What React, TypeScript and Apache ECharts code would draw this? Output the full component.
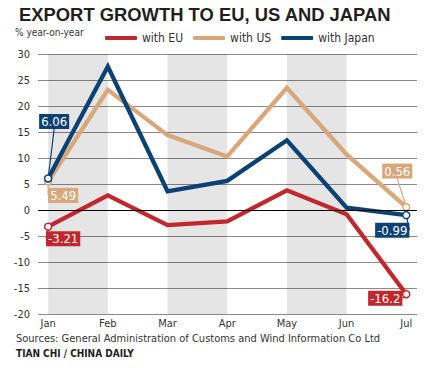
import React, { useEffect, useRef } from "react";
import * as echarts from "echarts";

const months = ["Jan", "Feb", "Mar", "Apr", "May", "Jun", "Jul"];
const euValues = [-3.21, 2.8, -2.9, -2.2, 3.8, -0.8, -16.2];
const usValues = [5.49, 23.1, 14.4, 10.3, 23.5, 10.7, 0.56];
const japanValues = [6.06, 27.6, 3.6, 5.6, 13.4, 0.45, -0.99];
const yTicks = { min: -20, max: 30, step: 5 };
const shadedPairs = [[0, 1], [2, 3], [4, 5]];

const RED = "#c1272d";
const TAN = "#d8a77a";
const NAVY = "#0b4273";
const FONT = "'Liberation Sans Narrow', 'DejaVu Sans Condensed', 'Roboto', sans-serif";

// label offsets (style, not data): [seriesIndex][dataIndex] -> [dx, dy]
const labelOffsets: Record<string, [number, number]> = {
  "0-0": [15, 12],
  "0-6": [-21, 4],
  "1-0": [15, 14],
  "1-6": [-9, -36],
  "2-0": [6, -57],
  "2-6": [-14, 15],
};

function buildData(values: number[], color: string) {
  return values.map((v, i) => {
    const isEnd = i === 0 || i === values.length - 1;
    return {
      value: [i, v],
      symbol: "circle",
      symbolSize: isEnd ? 7 : 0,
      itemStyle: { color: "#fff", borderColor: color, borderWidth: 1.5 },
      label: {
        show: isEnd,
        position: "inside",
        formatter: String(v),
        color: "#fff",
        backgroundColor: color,
        padding: [2, 2, 0, 2],
        fontSize: 13,
        fontFamily: FONT,
        lineHeight: 13,
      },
    };
  });
}

export default function App() {
  const ref = useRef<HTMLDivElement>(null);
  useEffect(() => {
    if (!ref.current) return;
    const chart = echarts.init(ref.current, null, { renderer: "svg" });
    const mk = (name: string, values: number[], color: string, extra: any = {}) => ({
      name,
      type: "line",
      data: buildData(values, color),
      lineStyle: { color, width: 4.3, join: "miter" },
      itemStyle: { color },
      labelLine: { show: true, lineStyle: { color, width: 1.2 } },
      labelLayout: (p: any) => {
        const o = labelOffsets[`${p.seriesIndex}-${p.dataIndex}`];
        return o ? { dx: o[0], dy: o[1] } : {};
      },
      emphasis: { disabled: true },
      ...extra,
    });
    chart.setOption({
      animation: false,
      backgroundColor: "#fff",
      title: {
        text: "EXPORT GROWTH TO EU, US AND JAPAN",
        left: 14,
        top: 0,
        textStyle: { fontSize: 18.4, fontWeight: "bold", color: "#231f20", fontFamily: "'Liberation Sans', Arial, sans-serif" },
      },
      legend: {
        left: 100,
        top: 27,
        icon: "roundRect",
        itemWidth: 32,
        itemHeight: 4,
        itemGap: 10,
        textStyle: { fontSize: 12, color: "#333", fontFamily: FONT },
        data: ["with EU", "with US", "with Japan"],
      },
      graphic: [
        { type: "text", left: 15, top: 27, style: { text: "% year-on-year", fontSize: 10, fill: "#333", fontFamily: FONT } },
        {
          type: "text",
          left: 16,
          top: 333,
          style: { text: "Sources: General Administration of Customs and Wind Information Co Ltd", fontSize: 11, fill: "#333", fontFamily: FONT },
        },
        {
          type: "text",
          left: 16,
          top: 348,
          style: { text: "TIAN CHI / CHINA DAILY", fontSize: 10, fontWeight: "bold", fill: "#231f20", fontFamily: FONT },
        },
      ],
      grid: { left: 38, right: 9, top: 54, bottom: 54 },
      xAxis: {
        type: "value",
        min: -0.17,
        max: 6.18,
        splitLine: { show: false },
        axisLine: { show: false },
        axisTick: { show: false },
        axisLabel: {
          customValues: months.map((_, i) => i),
          formatter: (v: number) => months[Math.round(v)] ?? "",
          fontSize: 11,
          color: "#333",
          fontFamily: FONT,
          margin: 4,
        },
      },
      yAxis: {
        type: "value",
        min: yTicks.min,
        max: yTicks.max,
        interval: yTicks.step,
        axisLine: { show: false },
        axisTick: { show: false },
        axisLabel: { fontSize: 11, color: "#333", fontFamily: FONT, margin: 8 },
        splitLine: { lineStyle: { color: "#8a8a8a", width: 1 } },
      },
      series: [
        mk("with EU", euValues, RED, {
          markArea: {
            silent: true,
            itemStyle: { color: "rgba(0,0,0,0.1)" },
            data: shadedPairs.map(([a, b]) => [{ xAxis: a }, { xAxis: b }]),
          },
          markLine: {
            silent: true,
            symbol: "none",
            label: { show: false },
            lineStyle: { color: "#000", width: 1, type: "solid" },
            data: [{ yAxis: 0 }],
          },
        }),
        mk("with US", usValues, TAN),
        mk("with Japan", japanValues, NAVY),
      ],
    });
    return () => chart.dispose();
  }, []);
  return <div ref={ref} style={{ position: "fixed", left: 0, top: 0, width: 426, height: 368 }} />;
}
